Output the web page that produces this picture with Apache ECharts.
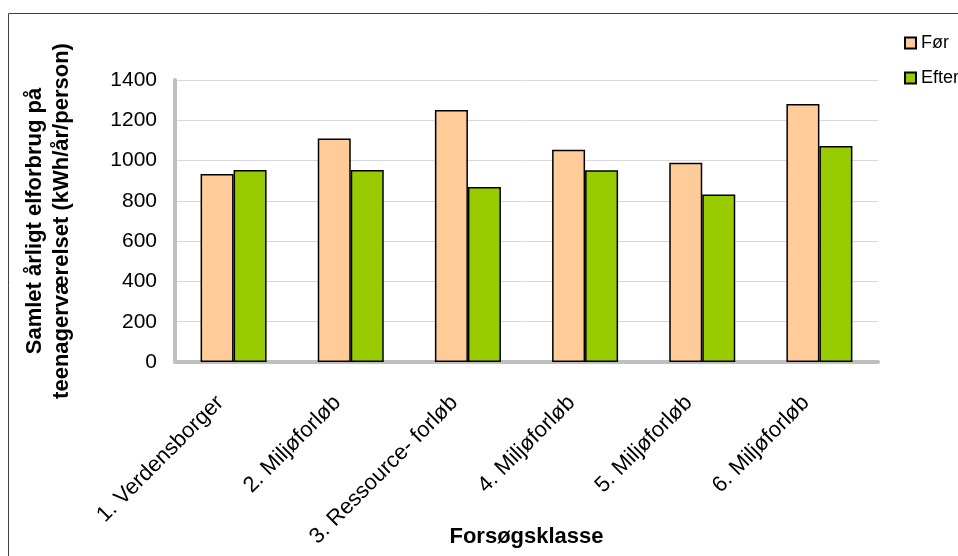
<!DOCTYPE html>
<html>
<head>
<meta charset="utf-8">
<script src="https://cdn.jsdelivr.net/npm/echarts@6/dist/echarts.min.js"></script>
<style>
  html, body { margin: 0; padding: 0; background: #fff; }
  #chart { width: 958px; height: 556px; }
</style>
</head>
<body>
<div id="chart"></div>
<script>
// Annual electricity use in teenagers' rooms, before and after each class's course
const categories = [
  '1. Verdensborger',
  '2. Miljøforløb',
  '3. Ressource- forløb',
  '4. Miljøforløb',
  '5. Miljøforløb',
  '6. Miljøforløb'
];
const foer = [933, 1110, 1251, 1054, 989, 1281];
const efter = [953, 953, 869, 952, 831, 1072];
const yTicks = { min: 0, max: 1400, step: 200 };

const font = '"Liberation Sans", Arial, sans-serif';
const chart = echarts.init(document.getElementById('chart'));

chart.setOption({
  animation: false,
  backgroundColor: '#ffffff',
  textStyle: { fontFamily: font, color: '#000' },
  graphic: [{
    type: 'rect',
    shape: { x: 8.5, y: 13.5, width: 1000, height: 600 },
    style: { fill: 'none', stroke: '#404040', lineWidth: 1 },
    silent: true
  }],
  legend: {
    orient: 'vertical',
    left: 899,
    top: 29,
    icon: 'rect',
    itemWidth: 11,
    itemHeight: 11,
    itemGap: 17,
    textStyle: { fontFamily: font, fontSize: 18, lineHeight: 18, color: '#000', padding: [0, 0, 0, 0] },
    data: ['Før', 'Efter']
  },
  grid: { left: 175, right: 80, top: 80, bottom: 194, containLabel: false, outerBoundsMode: 'none' },
  xAxis: {
    type: 'category',
    data: categories,
    name: 'Forsøgsklasse',
    nameLocation: 'middle',
    nameGap: 164,
    nameMoveOverlap: false,
    nameTextStyle: { fontFamily: font, fontSize: 22, fontWeight: 'bold', color: '#000' },
    axisLine: { show: true, lineStyle: { color: '#bfbfbf', width: 4 } },
    axisTick: { show: false },
    axisLabel: {
      rotate: 45,
      margin: 24,
      padding: [0, 19, 0, 0],
      fontFamily: font,
      fontSize: 22,
      color: '#000',
      interval: 0
    }
  },
  yAxis: {
    type: 'value',
    min: yTicks.min,
    max: yTicks.max,
    interval: yTicks.step,
    name: 'Samlet årligt elforbrug på\nteenagerværelset (kWh/år/person)',
    nameLocation: 'middle',
    nameGap: 100,
    nameRotate: 90,
    nameTextStyle: { fontFamily: font, fontSize: 22, fontWeight: 'bold', color: '#000', lineHeight: 27 },
    axisLine: { show: true, lineStyle: { color: '#bfbfbf', width: 4 } },
    axisTick: { show: false },
    axisLabel: {
      margin: 18,
      fontFamily: font,
      fontSize: 21,
      color: '#000',
      formatter: (v) => String(v)
    },
    splitLine: { show: true, lineStyle: { color: '#d9d9d9', width: 1 } }
  },
  series: [
    {
      name: 'Før',
      type: 'bar',
      data: foer,
      barWidth: 33,
      barGap: '0%',
      itemStyle: { color: '#ffcc99', borderColor: '#000', borderWidth: 1.5 }
    },
    {
      name: 'Efter',
      type: 'bar',
      data: efter,
      barWidth: 33,
      barGap: '0%',
      itemStyle: { color: '#99cc00', borderColor: '#000', borderWidth: 1.5 }
    }
  ]
});
</script>
</body>
</html>
